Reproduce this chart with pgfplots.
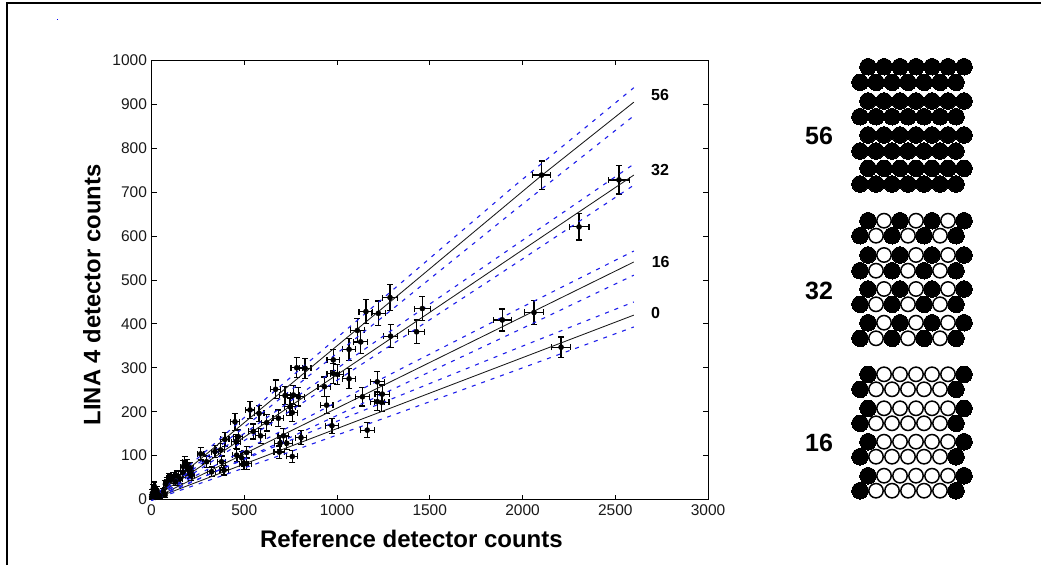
\documentclass[border=0pt]{standalone}
\usepackage{pgfplots}
\usepackage{fontspec}
\setmainfont{Liberation Sans}
\pgfplotsset{compat=1.18}
\pgfplotstableread{
x y ex ey
1286 460 39 29
1156 428 37 28
1223 424 38 28
1460 435 42 28
1429 382 42 27
1289 372 39 26
1110 385 37 27
1128 359 37 26
1065 342 36 25
980 318 34 24
783 300 31 23
828 299 32 23
980 287 34 23
1002 285 35 23
1065 275 36 23
932 257 34 22
944 215 34 20
669 251 28 21
720 237 30 21
765 238 30 21
792 234 31 21
747 211 30 20
759 198 30 20
684 185 29 19
580 196 26 19
531 204 25 20
450 177 23 19
621 175 27 19
549 155 26 17
588 145 27 17
396 137 22 16
468 143 24 16
456 132 23 16
1217 268 38 23
1137 234 37 21
1244 240 39 21
1241 221 39 20
1217 223 38 20
973 168 34 17
1163 158 37 17
806 141 31 16
711 145 29 16
693 128 29 15
729 128 30 15
689 108 29 14
759 98 30 14
513 107 25 14
459 101 24 14
486 95 24 14
513 82 25 13
499 81 25 13
265 104 18 14
373 113 21 15
342 109 20 14
297 86 19 13
378 86 21 13
324 63 20 11
391 67 22 11
190 79 15 13
172 75 14 13
199 67 16 11
208 60 16 11
180 85 15 13
210 72 16 12
215 55 16 11
170 62 14 11
154 47 14 10
100 46 11 10
82 41 10 9
118 52 12 10
95 50 11 10
130 40 12 9
135 55 12 10
75 35 9 9
64 18 9 7
73 10 9 6
10 25 6 10
19 14 6 8
30 20 7 9
15 30 6 10
35 12 7 7
45 8 7 6
20 5 6 5
5 15 5 8
12 18 6 8
1 6 4 5
28 6 6 5
2103 739 50 32
2520 728 55 32
2305 621 53 30
1891 409 48 25
2062 426 50 28
2208 347 52 23
}\pointsdata
\definecolor{bandblue}{RGB}{30,30,235}
\begin{document}
\begin{tikzpicture}[x=1pt,y=1pt]
\useasboundingbox (0,0) rectangle (1041,565);
\draw[line width=1.6pt,black] (7,0) -- (7,562) -- (1041,562);
\fill[blue] (57.2,545) rectangle (58.2,546);
\begin{axis}[
  at={(151.5pt,65.5pt)},anchor=south west,
  scale only axis,width=556.5pt,height=439pt,
  xmin=0,xmax=3000,ymin=0,ymax=1000,
  xtick={0,500,1000,1500,2000,2500,3000},
  ytick={0,100,200,300,400,500,600,700,800,900,1000},
  tick align=inside,major tick length=5pt,
  axis line style={line width=1pt},
  every tick/.style={black,line width=.9pt},
  /pgf/number format/assume math mode=true,
  /pgf/number format/1000 sep={},
  tick label style={font=\fontsize{15.5}{18}\selectfont,color=black!90},
  xticklabel style={yshift=-2pt},
  yticklabel style={xshift=-1pt},
  xlabel={\textbf{Reference detector counts}},
  ylabel={\textbf{LINA 4 detector counts}},
  xlabel style={font=\fontsize{24}{26}\selectfont,at={(axis description cs:0.467,-0.09)},anchor=center},
  ylabel style={font=\fontsize{23.8}{26}\selectfont,at={(axis description cs:-0.107,0.466)},anchor=center},
  clip=false,
]
\addplot[only marks,black,mark=*,mark size=2.6pt,
  error bars/.cd,x dir=both,y dir=both,x explicit,y explicit,
  error bar style={line width=1.2pt,black},
  error mark options={rotate=90,mark size=3pt,line width=1.2pt,black}]
  table[x=x,y=y,x error=ex,y error=ey]{\pointsdata};
% solid fits
\addplot[black!90,line width=.85pt] coordinates {(0,0)(1300,455)(2100,737)(2600,905)};
\addplot[black!90,line width=.85pt] coordinates {(0,0)(2600,739)};
\addplot[black!90,line width=.85pt] coordinates {(0,0)(2600,541)};
\addplot[black!90,line width=.85pt] coordinates {(0,0)(2600,420)};
% confidence bands
\pgfplotsset{band/.style={bandblue,line width=1.1pt,dash pattern=on 4pt off 6pt}}
\addplot[band] coordinates {(0,2)(650,242)(1300,477)(1950,712)(2600,938)};
\addplot[band] coordinates {(0,-2)(650,215)(1300,434)(1950,656)(2600,874)};
\addplot[band] coordinates {(0,2)(650,195)(1300,387)(1950,576)(2600,764)};
\addplot[band] coordinates {(0,-2)(650,175)(1300,354)(1950,534)(2600,716)};
\addplot[band] coordinates {(0,2)(650,145)(1300,288)(1950,428)(2600,566)};
\addplot[band] coordinates {(0,-2)(650,122)(1300,251)(1950,380)(2600,511)};
\addplot[band] coordinates {(0,2)(650,118)(1300,230)(1950,341)(2600,450)};
\addplot[band] coordinates {(0,-2)(650,94)(1300,192)(1950,292)(2600,393)};
\node[font=\fontsize{16}{18}\selectfont\bfseries] at (axis cs:2742,921) {56};
\node[font=\fontsize{16}{18}\selectfont\bfseries] at (axis cs:2742,750) {32};
\node[font=\fontsize{16}{18}\selectfont\bfseries] at (axis cs:2745,540) {16};
\node[font=\fontsize{16}{18}\selectfont\bfseries] at (axis cs:2718,425) {0};
\end{axis}
% detector maps, in pixel coordinates of the picture
\begin{axis}[
  at={(0pt,0pt)},anchor=south west,
  scale only axis,width=1041pt,height=565pt,
  xmin=0,xmax=1041,ymin=0,ymax=565,y dir=reverse,
  axis lines=none,clip=false,
]
\addplot[only marks,mark=*,mark size=8.3pt,black,mark options={fill=black,draw=black,line width=0pt}] coordinates {
(868,66.7)(884,66.7)(900,66.7)(916,66.7)(932,66.7)(948,66.7)(964,66.7)
(860,82.3)(876,82.3)(892,82.3)(908,82.3)(924,82.3)(940,82.3)(956,82.3)
(868,101)(884,101)(900,101)(916,101)(932,101)(948,101)(964,101)
(860,116.7)(876,116.7)(892,116.7)(908,116.7)(924,116.7)(940,116.7)(956,116.7)
(868,135)(884,135)(900,135)(916,135)(932,135)(948,135)(964,135)
(860,151)(876,151)(892,151)(908,151)(924,151)(940,151)(956,151)
(868,168.3)(884,168.3)(900,168.3)(916,168.3)(932,168.3)(948,168.3)(964,168.3)
(860,184)(876,184)(892,184)(908,184)(924,184)(940,184)(956,184)
(868,220.7)(900,220.7)(932,220.7)(964,220.7)
(860,235.7)(892,235.7)(924,235.7)(956,235.7)
(868,255)(900,255)(932,255)(964,255)
(860,270.7)(892,270.7)(924,270.7)(956,270.7)
(868,289)(900,289)(932,289)(964,289)
(860,304.3)(892,304.3)(924,304.3)(956,304.3)
(868,322.7)(900,322.7)(932,322.7)(964,322.7)
(860,338.3)(892,338.3)(924,338.3)(956,338.3)
(868,374.3)(964,374.3)(860,389.3)(956,389.3)
(868,408.3)(964,408.3)(860,423.3)(956,423.3)
(868,441.7)(964,441.7)(860,456.7)(956,456.7)
(868,475.7)(964,475.7)(860,490.7)(956,490.7)
};
\addplot[only marks,mark=*,mark size=7.2pt,black,mark options={fill=white,draw=black,line width=1.5pt}] coordinates {
(884,220.7)(916,220.7)(948,220.7)
(876,235.7)(908,235.7)(940,235.7)
(884,255)(916,255)(948,255)
(876,270.7)(908,270.7)(940,270.7)
(884,289)(916,289)(948,289)
(876,304.3)(908,304.3)(940,304.3)
(884,322.7)(916,322.7)(948,322.7)
(876,338.3)(908,338.3)(940,338.3)
(884,374.3)(900,374.3)(916,374.3)(932,374.3)(948,374.3)
(876,389.3)(892,389.3)(908,389.3)(924,389.3)(940,389.3)
(884,408.3)(900,408.3)(916,408.3)(932,408.3)(948,408.3)
(876,423.3)(892,423.3)(908,423.3)(924,423.3)(940,423.3)
(884,441.7)(900,441.7)(916,441.7)(932,441.7)(948,441.7)
(876,456.7)(892,456.7)(908,456.7)(924,456.7)(940,456.7)
(884,475.7)(900,475.7)(916,475.7)(932,475.7)(948,475.7)
(876,490.7)(892,490.7)(908,490.7)(924,490.7)(940,490.7)
};
\node[font=\fontsize{25}{28}\selectfont\bfseries] at (axis cs:819,136) {56};
\node[font=\fontsize{25}{28}\selectfont\bfseries] at (axis cs:819,291) {32};
\node[font=\fontsize{25}{28}\selectfont\bfseries] at (axis cs:819,443) {16};
\end{axis}
\end{tikzpicture}
\end{document}
